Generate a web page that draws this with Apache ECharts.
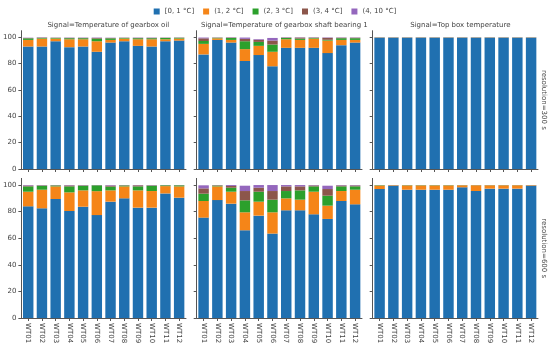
<!DOCTYPE html>
<html><head><meta charset="utf-8">
<script src="https://cdn.jsdelivr.net/npm/echarts@6/dist/echarts.min.js"></script>
<style>html,body{margin:0;padding:0;background:#fff}#c{width:550px;height:354px}</style>
</head><body><div id="c"></div>
<script>
const turbines = ['WT01','WT02','WT03','WT04','WT05','WT06','WT07','WT08','WT09','WT10','WT11','WT12'];
const bins = ['[0, 1 °C]','(1, 2 °C]','(2, 3 °C]','(3, 4 °C]','(4, 10 °C]'];
const signals = ['Temperature of gearbox oil','Temperature of gearbox shaft bearing 1','Top box temperature'];
const resolutions = ['300 s','600 s'];
const yTicks = [0,20,40,60,80,100];

// resolution 300 s
const oil300_b0 = [93,93,97,92.5,93,89,96,97,93.5,93,97,97.5];
const oil300_b1 = [5,6,2,6,5.5,8,2,2,5,5.5,1.5,1.5];
const oil300_b2 = [1.2,0.5,0.5,0.8,0.8,2,1.2,0.5,0.8,0.8,1,0.6];
const oil300_b3 = [0.3,0.3,0.2,0.3,0.3,0.5,0.3,0.2,0.3,0.3,0.2,0.2];
const oil300_b4 = [0.2,0.2,0.1,0.2,0.2,0.3,0.2,0.1,0.2,0.2,0.1,0.1];

const shaft300_b0 = [87,98,96,82,86.5,78,92,92,92,88,94,96];
const shaft300_b1 = [8,1.2,2,9,7,11,6.5,6,7,9.5,4,2];
const shaft300_b2 = [2.2,0.4,1.5,6,3,5.5,1,1,0.5,0.6,1.3,1.3];
const shaft300_b3 = [2,0.2,0.3,1.8,1.6,3,0.3,0.8,0.3,1.5,0.4,0.4];
const shaft300_b4 = [0.6,0.1,0.2,1,0.5,2,0.2,0.2,0.2,0.3,0.2,0.2];

const top300_b0 = [99.8,99.8,99.8,99.8,99.8,99.8,99.8,99.8,99.8,99.8,99.8,99.8];
const top300_b1 = [0.2,0.2,0.2,0.2,0.2,0.2,0.2,0.2,0.2,0.2,0.2,0.2];
const top300_b2 = [0,0,0,0,0,0,0,0,0,0,0,0];
const top300_b3 = [0,0,0,0,0,0,0,0,0,0,0,0];
const top300_b4 = [0,0,0,0,0,0,0,0,0,0,0,0];

// resolution 600 s
const oil600_b0 = [84,82.5,89.5,80.5,83.7,77.4,87.5,90,83,83,93.7,90.5];
const oil600_b1 = [11,14,9.5,14,12.3,18,8.5,9,13,12.5,5.5,8.5];
const oil600_b2 = [4,3,0.7,4.5,3.5,4.4,2.8,0.7,3,4,0.6,0.8];
const oil600_b3 = [0.6,0.3,0.2,0.7,0.3,0.1,0.8,0.2,0.8,0.3,0.1,0.1];
const oil600_b4 = [0.4,0.2,0.1,0.3,0.2,0.1,0.4,0.1,0.2,0.2,0.1,0.1];

const shaft600_b0 = [75.5,88.7,86,66,77,63.5,81,81,78,74.5,88,85.5];
const shaft600_b1 = [12.5,10.3,9,13.5,10.5,16,9,8,17,10,7.5,11];
const shaft600_b2 = [5.5,0.6,3,9,7.5,9.5,5.5,7,4,7.5,3.5,2.5];
const shaft600_b3 = [4,0.3,1.3,7,3,6.5,3.5,3,0.7,5,0.7,0.7];
const shaft600_b4 = [2.3,0.1,0.7,4,2,4.5,1,1,0.3,2.5,0.3,0.3];

const top600_b0 = [97,99.6,96.5,96.5,96.5,96.5,98.3,95.5,97.3,97.3,97.3,99.6];
const top600_b1 = [2.6,0.4,3.2,3.2,3.2,3.2,1.5,4.3,2.5,2.5,2.5,0.4];
const top600_b2 = [0.3,0,0.2,0.2,0.2,0.2,0.1,0.1,0.1,0.1,0.1,0];
const top600_b3 = [0.1,0,0.1,0.1,0.1,0.1,0.1,0.1,0.1,0.1,0.1,0];
const top600_b4 = [0,0,0,0,0,0,0,0,0,0,0,0];

const panels = [
  [oil300_b0,oil300_b1,oil300_b2,oil300_b3,oil300_b4],
  [shaft300_b0,shaft300_b1,shaft300_b2,shaft300_b3,shaft300_b4],
  [top300_b0,top300_b1,top300_b2,top300_b3,top300_b4],
  [oil600_b0,oil600_b1,oil600_b2,oil600_b3,oil600_b4],
  [shaft600_b0,shaft600_b1,shaft600_b2,shaft600_b3,shaft600_b4],
  [top600_b0,top600_b1,top600_b2,top600_b3,top600_b4]
];
const colors = ['#2070b0','#f58518','#2ca02c','#8c564b','#9467bd'];

const FONT = 'DejaVu Sans';
const FS = 7;
const txt = '#444';
const colLeft = [20.7, 196.7, 372.7];
const colW = 165.3;
const rowTop = [30.7, 178.4];
const rowH = [138.3, 139.6];

const grids = [], xAxes = [], yAxes = [], series = [];
for (let r = 0; r < 2; r++) {
  for (let c = 0; c < 3; c++) {
    const i = r*3 + c;
    grids.push({left: colLeft[c], top: rowTop[r], width: colW, height: rowH[r], containLabel: false});
    xAxes.push({
      type: 'category', gridIndex: i, data: turbines,
      axisLine: {lineStyle: {color: '#555', width: 1}},
      axisTick: {show: true, alignWithLabel: true, length: 3, lineStyle: {color: '#555'}},
      axisLabel: {show: r === 1, rotate: -90, fontSize: FS, fontFamily: FONT, color: txt, margin: 5}
    });
    yAxes.push({
      type: 'value', gridIndex: i, min: 0, max: 105,
      splitLine: {show: false},
      axisLine: {show: true, lineStyle: {color: '#555', width: 1}},
      axisTick: {show: true, length: 3, lineStyle: {color: '#555'}, customValues: yTicks},
      axisLabel: {show: c === 0, fontSize: FS, fontFamily: FONT, color: txt, margin: 5, customValues: yTicks}
    });
    panels[i].forEach((vals, k) => {
      series.push({
        type: 'bar', name: bins[k], xAxisIndex: i, yAxisIndex: i, stack: 'p' + i,
        data: vals, barCategoryGap: '24%', itemStyle: {color: colors[k]},
        emphasis: {disabled: true}
      });
    });
  }
}

const titles = signals.map((s, c) => ({
  text: 'Signal=' + s, left: colLeft[c] + colW/2, top: 17, textAlign: 'center',
  textStyle: {fontSize: FS, fontWeight: 'normal', fontFamily: FONT, color: txt}
}));

const chart = echarts.init(document.getElementById('c'), null, {renderer: 'canvas'});
chart.setOption({
  backgroundColor: '#fff',
  animation: false,
  title: titles,
  legend: {
    data: bins, top: 3, left: 'center', itemWidth: 6, itemHeight: 6, itemGap: 9, icon: 'rect',
    textStyle: {fontSize: FS, fontFamily: FONT, color: txt}
  },
  grid: grids, xAxis: xAxes, yAxis: yAxes, series: series,
  graphic: resolutions.map((res, r) => ({
    type: 'text', x: 544, y: rowTop[r] + rowH[r]/2, rotation: -Math.PI/2,
    style: {text: 'resolution=' + res, fontSize: FS, fontFamily: FONT, fill: txt, align: 'center', verticalAlign: 'middle'}
  }))
});
</script></body></html>
